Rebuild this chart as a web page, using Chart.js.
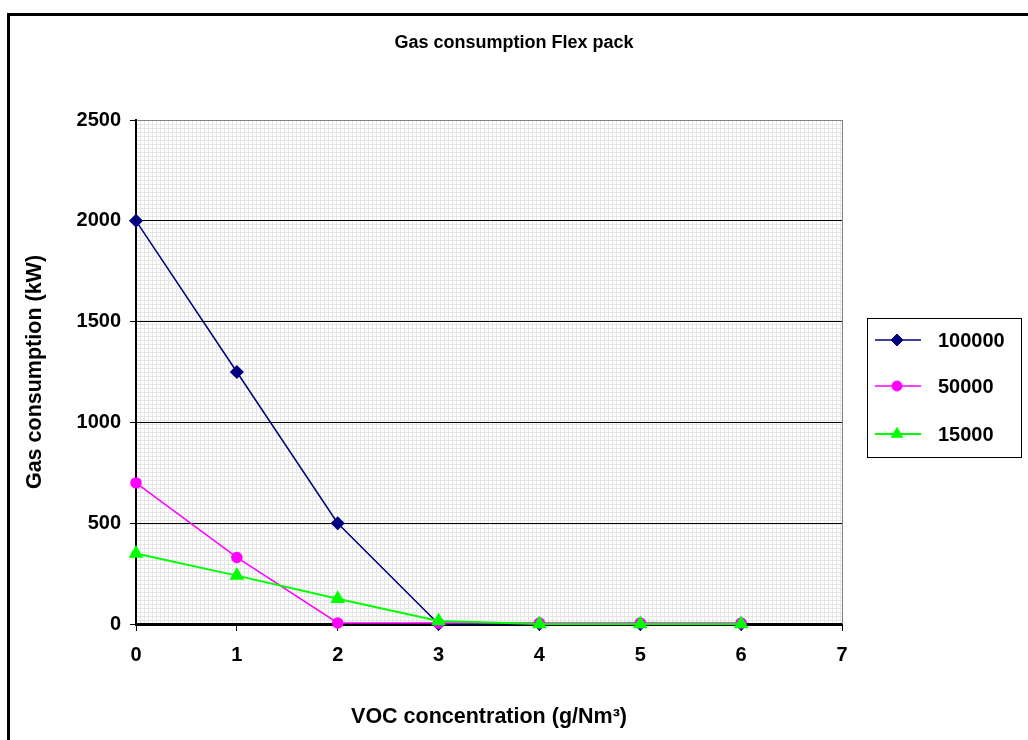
<!DOCTYPE html>
<html>
<head>
<meta charset="utf-8">
<script src="https://cdn.jsdelivr.net/npm/chart.js@4/dist/chart.umd.min.js"></script>
<style>
    html, body { margin: 0; padding: 0; background: #ffffff; overflow: hidden; }
    .wrap { position: relative; width: 1028px; height: 740px; }
    /* outer chart frame, runs off the right and bottom edges like the original */
    .frame {
        position: absolute; left: 7px; top: 13px;
        width: 1100px; height: 800px;
        border: 3px solid #000000; box-sizing: border-box;
    }
    canvas { position: absolute; left: 0; top: 0; }
</style>
</head>
<body>
<div class="wrap">
    <div class="frame"></div>
    <canvas id="chart" width="1028" height="740"></canvas>
</div>
<script>
// data
const vocConcentration = [0, 1, 2, 3, 4, 5, 6];
const seriesNames = ['100000', '50000', '15000'];
const gas100000 = [2000, 1250, 500, 0, 0, 0, 0];
const gas50000 = [700, 330, 5, 5, 5, 5, 5];
const gas15000 = [350, 240, 125, 15, 0, 0, 0];
const yTicks = [0, 500, 1000, 1500, 2000, 2500];
const xTicks = [0, 1, 2, 3, 4, 5, 6, 7];

const FONT = "'Liberation Sans', Arial, sans-serif";

const toPoints = (ys) => ys.map((y, i) => ({ x: vocConcentration[i], y: y }));

// light excel-like hatch behind the plot
function makePattern(ctx) {
    const c = document.createElement('canvas');
    c.width = 4; c.height = 4;
    const p = c.getContext('2d');
    p.fillStyle = '#ffffff';
    p.fillRect(0, 0, 4, 4);
    p.fillStyle = '#e6e6e6';
    p.fillRect(0, 0, 4, 1);
    p.fillRect(0, 0, 1, 4);
    return ctx.createPattern(c, 'repeat');
}

const plotBackground = {
    id: 'plotBackground',
    beforeDraw(chart) {
        const { ctx, chartArea: a } = chart;
        ctx.save();
        ctx.fillStyle = makePattern(ctx);
        ctx.fillRect(a.left, a.top, a.right - a.left, a.bottom - a.top);
        ctx.restore();
    },
    beforeDatasetsDraw(chart) {
        const { ctx, chartArea: a } = chart;
        ctx.save();
        ctx.strokeStyle = '#808080';
        ctx.lineWidth = 1;
        ctx.beginPath();
        ctx.moveTo(a.right + 0.5, a.top);
        ctx.lineTo(a.right + 0.5, a.bottom);
        ctx.stroke();
        ctx.restore();
    }
};

// boxed legend with line + marker samples, like the excel one
const boxLegend = {
    id: 'boxLegend',
    afterDraw(chart) {
        const { ctx } = chart;
        const box = { x: 867.5, y: 318.5, w: 154, h: 139 };
        const rows = [340, 386, 434];
        ctx.save();
        ctx.strokeStyle = '#000000';
        ctx.lineWidth = 1;
        ctx.strokeRect(box.x, box.y, box.w, box.h);
        chart.data.datasets.forEach((ds, i) => {
            const y = rows[i];
            ctx.strokeStyle = ds.borderColor;
            ctx.lineWidth = ds.borderWidth;
            ctx.beginPath();
            ctx.moveTo(875, y);
            ctx.lineTo(921, y);
            ctx.stroke();
            ctx.fillStyle = ds.pointBackgroundColor;
            ctx.strokeStyle = ds.pointBorderColor;
            ctx.lineWidth = 1;
            Chart.helpers.drawPoint(ctx, {
                pointStyle: ds.pointStyle, radius: ds.pointRadius, rotation: 0, borderWidth: 1
            }, 897, y);
            ctx.fillStyle = '#000000';
            ctx.font = 'bold 20px ' + FONT;
            ctx.textAlign = 'left';
            ctx.textBaseline = 'middle';
            ctx.fillText(ds.label, 938, y + 1);
        });
        ctx.restore();
    }
};

new Chart(document.getElementById('chart').getContext('2d'), {
    type: 'line',
    data: {
        datasets: [
            {
                label: seriesNames[0], data: toPoints(gas100000),
                borderColor: '#000080', backgroundColor: '#000080',
                pointBackgroundColor: '#000080', pointBorderColor: '#000080',
                borderWidth: 1.5, pointStyle: 'rectRot', pointRadius: 6, order: 3
            },
            {
                label: seriesNames[1], data: toPoints(gas50000),
                borderColor: '#ff00ff', backgroundColor: '#ff00ff',
                pointBackgroundColor: '#ff00ff', pointBorderColor: '#ff00ff',
                borderWidth: 1.5, pointStyle: 'circle', pointRadius: 5, order: 2
            },
            {
                label: seriesNames[2], data: toPoints(gas15000),
                borderColor: '#00ff00', backgroundColor: '#00ff00',
                pointBackgroundColor: '#00ff00', pointBorderColor: '#00ff00',
                borderWidth: 2, pointStyle: 'triangle', pointRadius: 6.5, order: 1
            }
        ]
    },
    options: {
        responsive: false,
        animation: false,
        devicePixelRatio: 1,
        layout: { padding: 0 },
        elements: { line: { tension: 0 }, point: { borderWidth: 1, hoverRadius: 6 } },
        datasets: { line: { clip: false } },
        plugins: {
            legend: { display: false },
            tooltip: { enabled: false },
            title: {
                display: true,
                text: 'Gas consumption Flex pack',
                color: '#000000',
                font: { family: FONT, size: 18, weight: 'bold', lineHeight: 1.2 },
                padding: { top: 32, bottom: 66.4 }
            }
        },
        scales: {
            x: {
                type: 'linear',
                min: xTicks[0],
                max: xTicks[xTicks.length - 1],
                afterBuildTicks: (s) => { s.ticks = xTicks.map(v => ({ value: v })); },
                afterFit: (s) => { s.height = 116; },
                border: { display: true, color: '#000000', width: 3 },
                grid: { drawOnChartArea: false, drawTicks: true, tickLength: 7, tickColor: '#000000', lineWidth: 1 },
                ticks: {
                    color: '#000000', padding: 12,
                    font: { family: FONT, size: 20, weight: 'bold' },
                    callback: (v) => String(v)
                },
                title: {
                    display: true,
                    text: 'VOC concentration (g/Nm³)',
                    color: '#000000',
                    font: { family: FONT, size: 21.5, weight: 'bold', lineHeight: 1.2 },
                    padding: { top: 0, bottom: 10 }
                }
            },
            y: {
                min: yTicks[0],
                max: yTicks[yTicks.length - 1],
                afterBuildTicks: (s) => { s.ticks = yTicks.map(v => ({ value: v })); },
                afterFit: (s) => { s.width = 136; },
                border: { display: true, color: '#000000', width: 2 },
                grid: {
                    drawTicks: true, tickLength: 6, tickColor: '#000000', lineWidth: 1,
                    color: (c) => (c.tick && c.tick.value === 2500 ? '#808080' : '#000000')
                },
                ticks: {
                    color: '#000000', padding: 9,
                    font: { family: FONT, size: 20, weight: 'bold' },
                    callback: (v) => String(v)
                },
                title: {
                    display: true,
                    text: 'Gas consumption (kW)',
                    color: '#000000',
                    font: { family: FONT, size: 21.5, weight: 'bold', lineHeight: 1.2 },
                    padding: { top: 22, bottom: 0 }
                }
            },
            // empty strip on the right that holds the legend box
            legendSpace: {
                type: 'linear',
                position: 'right',
                display: true,
                afterFit: (s) => { s.width = 186; },
                border: { display: false },
                grid: { display: false },
                ticks: { display: false },
                title: { display: false }
            }
        }
    },
    plugins: [plotBackground, boxLegend]
});
</script>
</body>
</html>
